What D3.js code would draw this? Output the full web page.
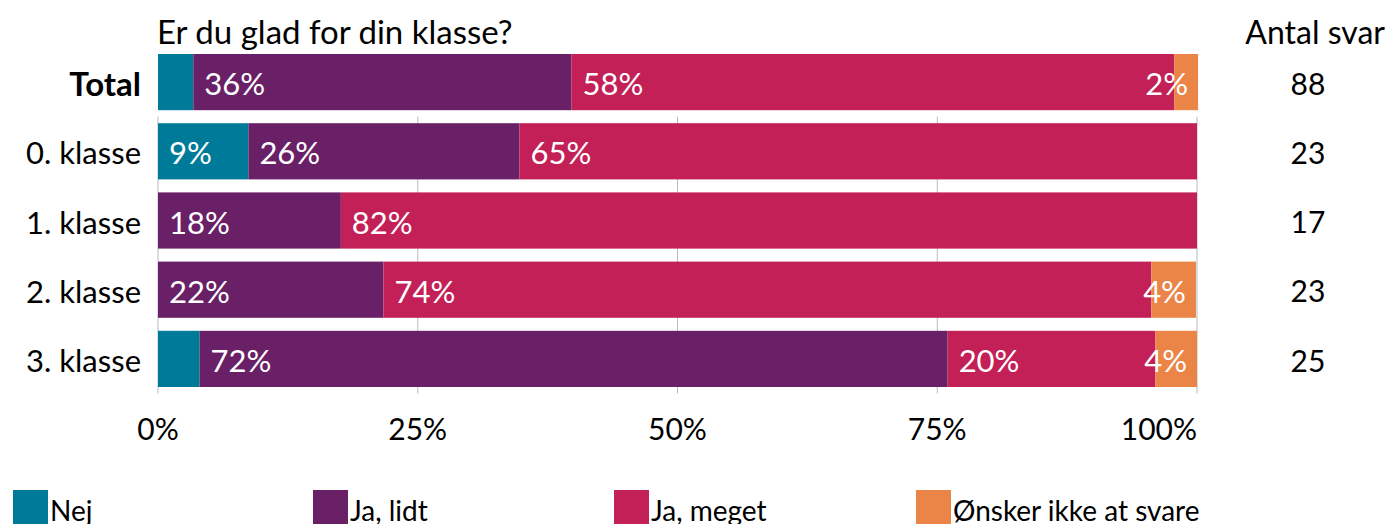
<!DOCTYPE html>
<html><head><meta charset="utf-8">
<script src="https://cdn.jsdelivr.net/npm/d3@7"></script>
<style>body{margin:0;background:#fff}svg{display:block;font-family:Lato,sans-serif}</style>
</head><body><svg id="c" width="1388" height="524"></svg>
<script>
const categories = ["Total", "0. klasse", "1. klasse", "2. klasse", "3. klasse"];
const seriesNames = ["Nej", "Ja, lidt", "Ja, meget", "Ønsker ikke at svare"];
const nej      = [3.4, 8.7, 0, 0, 4];
const jaLidt   = [36.4, 26.1, 17.6, 21.7, 72];
const jaMeget  = [58.0, 65.2, 82.4, 73.9, 20];
const onsker   = [2.3, 0, 0, 4.3, 4];
const counts   = [88, 23, 17, 23, 25];
const ticks    = [0, 25, 50, 75, 100];
const tickLabels = ["0%", "25%", "50%", "75%", "100%"];
const colors = ["#007a99", "#692067", "#c32057", "#eb8447"];
const title = "Er du glad for din klasse?";
const countTitle = "Antal svar";

const series = [nej, jaLidt, jaMeget, onsker];
const rows = categories.map((c, i) => {
  const o = {cat: c};
  seriesNames.forEach((s, j) => o[s] = series[j][i]);
  return o;
});
const stack = d3.stack().keys(seriesNames)(rows);

const svg = d3.select("#c");
const x = d3.scaleLinear().domain([0, 100]).range([158, 1197]);
const y = d3.scaleBand().domain(categories).range([54, 387]).paddingInner(0.188).paddingOuter(0);
const bw = y.bandwidth();
const gap = y.step() - bw;

// gridlines
const gTop = y(categories[1]) - gap / 2, gBot = y(categories[categories.length - 1]) + bw + gap / 2;
svg.append("g").selectAll("line").data(ticks).join("line")
  .attr("x1", d => x(d)).attr("x2", d => x(d))
  .attr("y1", gTop).attr("y2", gBot)
  .attr("stroke", "#b4bcc4").attr("stroke-width", 1);

// bars
const layers = svg.append("g").selectAll("g").data(stack).join("g")
  .attr("fill", (d, i) => colors[i]);
layers.selectAll("rect").data(d => d.filter(e => e[1] - e[0] > 0)).join("rect")
  .attr("x", d => x(d[0])).attr("width", d => x(d[1]) - x(d[0]))
  .attr("y", d => y(d.data.cat)).attr("height", bw);

// bar labels
const fmt = v => Math.round(v) + "%";
stack.forEach((layer, li) => {
  layer.forEach(d => {
    const v = d[1] - d[0];
    if (v <= 0) return;
    const last = li === stack.length - 1;
    if (!last && v < 5) return;
    const t = svg.append("text")
      .attr("y", y(d.data.cat) + bw / 2)
      .attr("dy", "0.42em")
      .attr("fill", "#fff").attr("font-size", 31)
      .text(fmt(v));
    if (last) t.attr("x", x(d[1]) - 10).attr("text-anchor", "end");
    else t.attr("x", x(d[0]) + 11);
  });
});

// category labels
svg.append("g").selectAll("text").data(categories).join("text")
  .attr("x", 141).attr("y", d => y(d) + bw / 2).attr("dy", "0.42em")
  .attr("text-anchor", "end")
  .attr("font-size", (d, i) => i === 0 ? 33 : 31)
  .attr("font-weight", (d, i) => i === 0 ? "bold" : "normal")
  .attr("fill", "#000").text(d => d);

// counts
svg.append("g").selectAll("text").data(counts).join("text")
  .attr("x", 1308).attr("y", (d, i) => y(categories[i]) + bw / 2).attr("dy", "0.42em")
  .attr("text-anchor", "middle").attr("font-size", 30).attr("fill", "#000").text(d => d);

svg.append("text").attr("x", 1385).attr("y", 44).attr("text-anchor", "end")
  .attr("font-size", 32).text(countTitle);
svg.append("text").attr("x", 157).attr("y", 44).attr("font-size", 33).text(title);

// x axis tick labels
svg.append("g").selectAll("text").data(ticks).join("text")
  .attr("x", d => x(d))
  .attr("text-anchor", (d, i) => i === ticks.length - 1 ? "end" : "middle")
  .attr("y", 440).attr("font-size", 30).attr("fill", "#000")
  .text((d, i) => tickLabels[i]);

// legend
const lx = [13, 313, 614, 916];
const lg = svg.append("g").selectAll("g").data(seriesNames).join("g")
  .attr("transform", (d, i) => `translate(${lx[i]},490)`);
lg.append("rect").attr("width", 35).attr("height", 35).attr("fill", (d, i) => colors[i]);
lg.append("text").attr("x", 37).attr("y", 31).attr("font-size", 28).attr("fill", "#000").text(d => d);
</script></body></html>
